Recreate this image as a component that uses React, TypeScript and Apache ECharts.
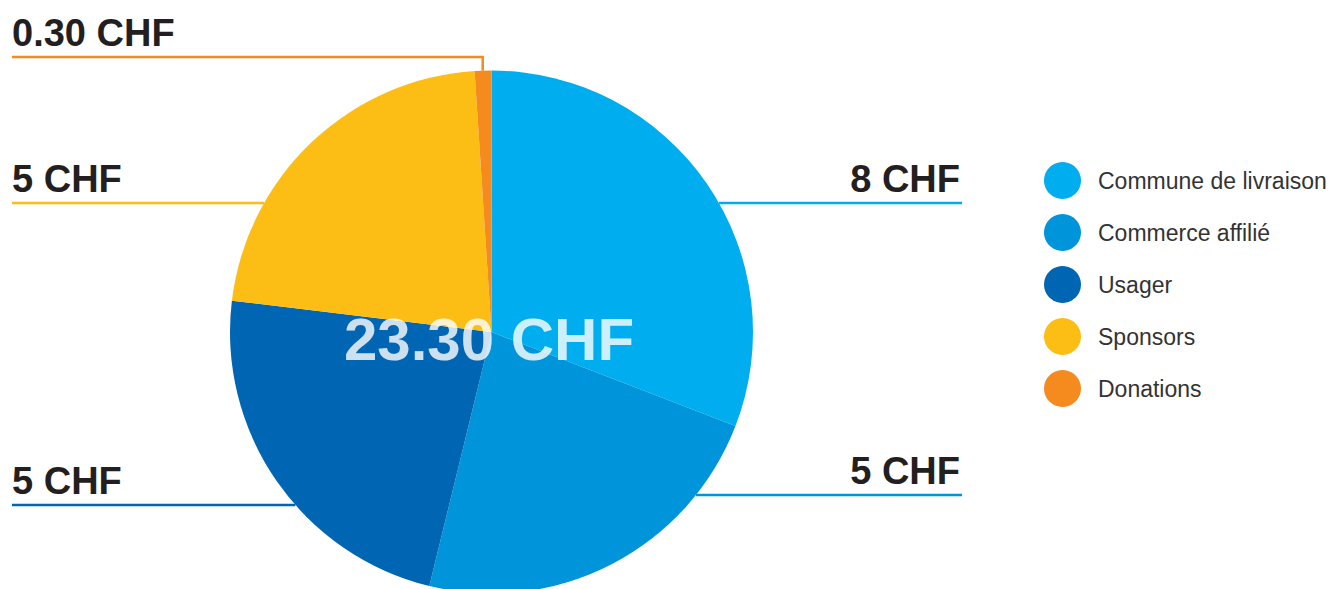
import React, { useEffect, useRef } from "react";
import * as echarts from "echarts";

// Categories (legend order)
const categories = [
  "Commune de livraison",
  "Commerce affilié",
  "Usager",
  "Sponsors",
  "Donations",
];
// Amounts written on the labels (CHF)
const amounts = [8, 5, 5, 5, 0.3];
// Slice sizes as drawn in the picture (angles, in CHF of the 23.30 total)
const sliceShares = [7.19, 5.35, 5.38, 5.14, 0.24];
const colors = ["#00AEEF", "#0095DA", "#0066B3", "#FCBD14", "#F58B1F"];

const CX = 491.5;
const CY = 332;
const R = 261.5;

// label placement: side and the y of the underline
const labelSide = ["right", "right", "left", "left", "left"];
const lineYs = [203, 495, 505, 203, 57];

const fmt = (v: number) => (Number.isInteger(v) ? String(v) : v.toFixed(2));

export default function App() {
  const ref = useRef<HTMLDivElement>(null);
  useEffect(() => {
    if (!ref.current) return;
    const chart = echarts.init(ref.current, undefined, { renderer: "svg" });
    const total = amounts.reduce((a, b) => a + b, 0);
    const option: any = {
      animation: false,
      legend: {
        orient: "vertical",
        left: 1039,
        top: 157,
        icon: "circle",
        itemWidth: 37,
        itemHeight: 37,
        itemGap: 15,
        selectedMode: false,
        data: categories,
        textStyle: {
          fontFamily: "'Liberation Sans', Arial, sans-serif",
          fontSize: 23,
          color: "#333333",
          padding: [0, 0, 0, 12],
        },
      },
      graphic: [
        {
          type: "text",
          x: 489,
          y: 339,
          z: 100,
          silent: true,
          style: {
            text: total.toFixed(2) + " CHF",
            align: "center",
            verticalAlign: "middle",
            fontFamily: "'Liberation Sans', Arial, sans-serif",
            fontWeight: "bold",
            fontSize: 60,
            fill: "rgba(255,255,255,0.8)",
          },
        },
      ],
      series: [
        {
          type: "pie",
          center: [CX, CY],
          radius: R,
          startAngle: 90,
          clockwise: true,
          avoidLabelOverlap: false,
          silent: true,
          emphasis: { disabled: true },
          itemStyle: { borderWidth: 0 },
          label: {
            show: true,
            position: "outside",
            formatter: (p: any) => fmt(amounts[p.dataIndex]) + " CHF",
            fontFamily: "'Liberation Sans', Arial, sans-serif",
            fontWeight: "bold",
            fontSize: 38,
            color: "#231F20",
          },
          labelLine: {
            show: true,
            smooth: false,
            length: 10,
            length2: 10,
            lineStyle: { width: 2.5 },
          },
          labelLayout: (params: any) => {
            const i = params.dataIndex;
            const ly = lineYs[i];
            const right = labelSide[i] === "right";
            const dy = ly - CY;
            let pts: number[][];
            if (i === categories.length - 1) {
              // small slice at the top: line rises from the slice and runs left
              const sx = 482.7;
              const sy = CY - Math.sqrt(R * R - (sx - CX) * (sx - CX));
              pts = [[sx, sy], [sx, ly], [12, ly]];
            } else {
              const dx = Math.sqrt(Math.max(0, R * R - dy * dy));
              const sx = right ? CX + dx : CX - dx;
              const ex = right ? 962 : 12;
              pts = [[sx, ly], [(sx + ex) / 2, ly], [ex, ly]];
            }
            return {
              x: right ? 960 : 12,
              y: ly - 24.5,
              align: right ? "right" : "left",
              verticalAlign: "middle",
              labelLinePoints: pts,
            };
          },
          data: categories.map((name, i) => ({
            name,
            value: sliceShares[i],
            itemStyle: { color: colors[i] },
          })),
        },
      ],
    };
    chart.setOption(option);
    return () => chart.dispose();
  }, []);
  return (
    <div
      ref={ref}
      style={{ position: "fixed", left: 0, top: 0, width: 1329, height: 589, background: "#ffffff" }}
    />
  );
}
